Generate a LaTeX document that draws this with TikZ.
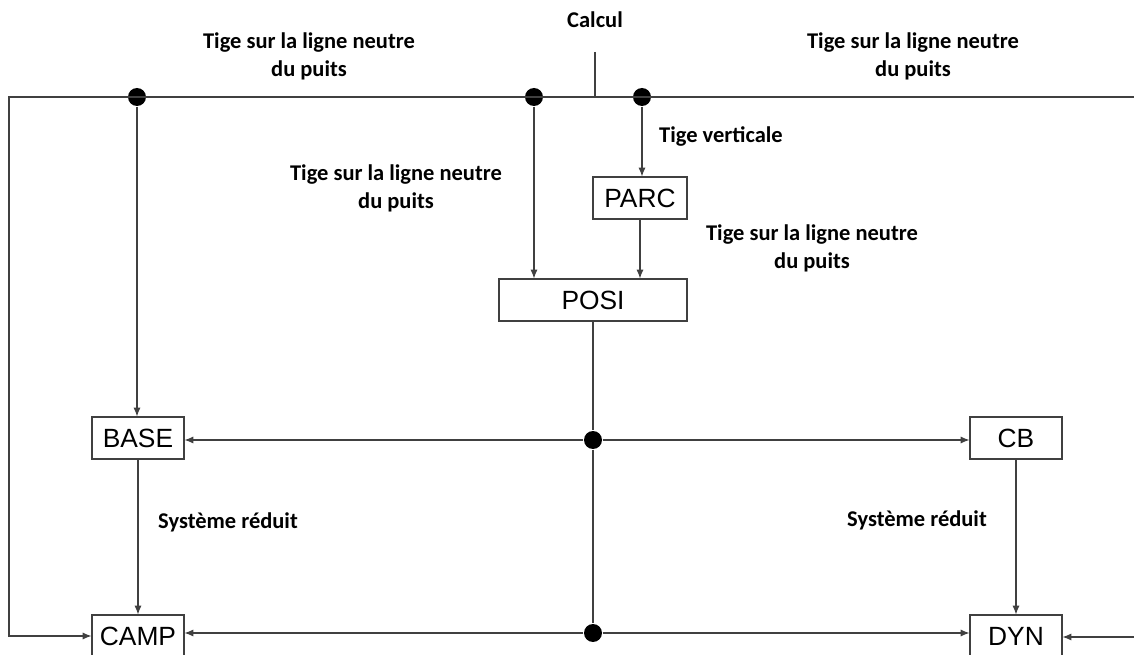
\documentclass[tikz,border=0pt]{standalone}
\usepackage{fontspec}
\setmainfont{Liberation Sans}
\newfontfamily\lblfont{Carlito}
\usetikzlibrary{arrows.meta}

\begin{document}
\begin{tikzpicture}[x=0.02cm,y=-0.02cm,line width=0.6pt,
  bloc/.style={draw=black!75,minimum width=1.84cm,minimum height=0.84cm,inner sep=0pt,font=\fontsize{15}{18}\selectfont},
  lbl/.style={font=\lblfont\bfseries\fontsize{12.8}{16}\selectfont,align=center},
  pt/.style={circle,fill=black,inner sep=0pt,minimum size=0.36cm},
  fl/.style={draw=black!75,-{Latex[length=5pt,width=4pt]}}]

\useasboundingbox (0,0) rectangle (1134,655);
\clip (0,0) rectangle (1134,655);

% blocs
\node[bloc,minimum width=1.88cm] (parc) at (640,198) {PARC};
\node[bloc,minimum width=3.76cm] (posi) at (593,300) {POSI};
\node[bloc] (base) at (138,438) {BASE};
\node[bloc] (cb) at (1016,438) {CB};
\node[bloc] (camp) at (138,636) {CAMP};
\node[bloc] (dyn) at (1016,636) {DYN};

% points
\node[pt] (p1) at (137,97) {};
\node[pt] (p2) at (534,97) {};
\node[pt] (p3) at (642,97) {};
\node[pt] (pc) at (593,440) {};
\node[pt] (pb) at (593,633) {};

\coordinate (tl) at (9,97);
\coordinate (tr) at (1140,97);
\coordinate (ct) at (595,52);
\coordinate (dr) at (1140,637);

% textes
\node[lbl] (calcul) at (595,20) {Calcul};
\node[lbl] (t1) at (309,56) {Tige sur la ligne neutre\\du puits};
\node[lbl] (t2) at (913,56) {Tige sur la ligne neutre\\du puits};
\node[lbl] (tv) at (721,137) {Tige verticale};
\node[lbl] (t3) at (396,188) {Tige sur la ligne neutre\\du puits};
\node[lbl] (t4) at (812,248) {Tige sur la ligne neutre\\du puits};
\node[lbl] (s1) at (228,522) {Système réduit};
\node[lbl] (s2) at (917,520) {Système réduit};

% liaisons
\draw[fl] (tr) -- (tl) |- (camp.west);
\draw[draw=black!75] (ct) -- (ct |- tl);
\draw[fl] (p1) -- (p1 |- base.north);
\draw[fl] (p2) -- (p2 |- posi.north);
\draw[fl] (p3) -- (p3 |- parc.north);
\draw[fl] (parc) -- (parc |- posi.north);
\draw[draw=black!75] (posi) -- (pc) -- (pb);
\draw[fl] (pc) -- (pc -| base.east);
\draw[fl] (pc) -- (pc -| cb.west);
\draw[fl] (pb) -- (pb -| camp.east);
\draw[fl] (pb) -- (pb -| dyn.west);
\draw[fl] (base) -- (camp);
\draw[fl] (cb) -- (dyn);
\draw[fl] (dr) -- (dr -| dyn.east);

\end{tikzpicture}
\end{document}
